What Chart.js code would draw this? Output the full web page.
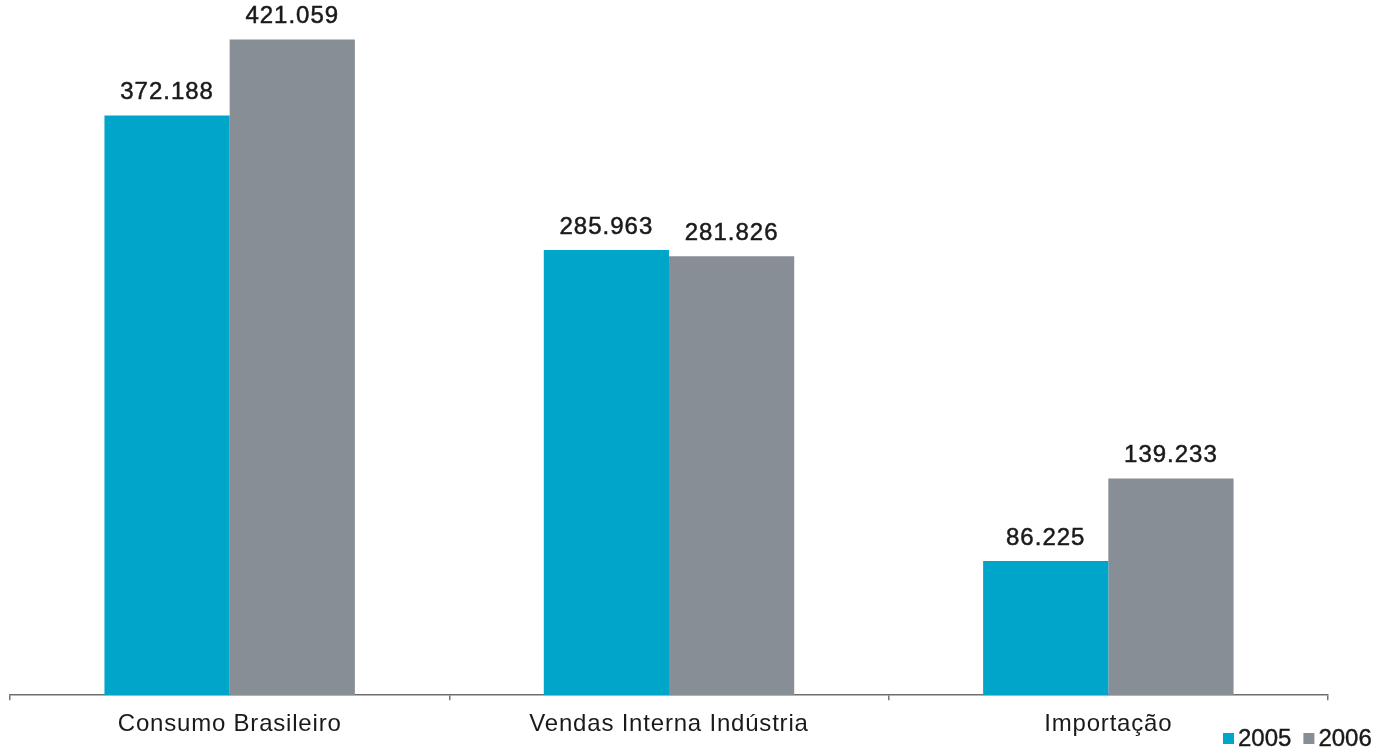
<!DOCTYPE html>
<html lang="pt">
<head>
<meta charset="utf-8">
<title>Consumo Brasileiro 2005 x 2006</title>
<script src="https://cdn.jsdelivr.net/npm/chart.js@4/dist/chart.umd.min.js"></script>
<style>
  html, body { margin: 0; padding: 0; background: #fff; }
  #wrap { position: relative; width: 1390px; height: 753px; }
</style>
</head>
<body>
<div id="wrap"><canvas id="grafico"></canvas></div>
<script>
const categorias = ['Consumo Brasileiro', 'Vendas Interna Indústria', 'Importação'];
const anos = ['2005', '2006'];
const valores2005 = [372.188, 285.963, 86.225];
const valores2006 = [421.059, 281.826, 139.233];

const corAzul = '#00a6ca';
const corCinza = '#888e95';
const corTexto = '#1a1a1a';
const fonte = "'Liberation Sans', Arial, Helvetica, sans-serif";

function formatar(v) {
    return v.toFixed(3);
}

// espaçamento entre letras nos textos do eixo
const espacamento = {
    id: 'espacamento',
    beforeDraw(chart) { chart.ctx.letterSpacing = '0.8px'; },
    afterDraw(chart) { chart.ctx.letterSpacing = '0px'; }
};

// rótulos com o valor acima de cada barra
const rotulosValores = {
    id: 'rotulosValores',
    afterDatasetsDraw(chart) {
        const ctx = chart.ctx;
        ctx.save();
        ctx.font = '24px ' + fonte;
        ctx.fillStyle = corTexto;
        ctx.strokeStyle = corTexto;
        ctx.lineWidth = 0.5;
        ctx.textAlign = 'center';
        ctx.textBaseline = 'bottom';
        ctx.letterSpacing = '1px';
        chart.data.datasets.forEach((ds, i) => {
            chart.getDatasetMeta(i).data.forEach((bar, j) => {
                const txt = formatar(ds.data[j]);
                ctx.fillText(txt, bar.x, bar.y - 11);
                ctx.strokeText(txt, bar.x, bar.y - 11);
            });
        });
        ctx.restore();
    }
};

// legenda compacta no canto inferior direito
const legendaAnos = {
    id: 'legendaAnos',
    afterDraw(chart) {
        const ctx = chart.ctx;
        ctx.save();
        ctx.font = '24px ' + fonte;
        ctx.textBaseline = 'middle';
        ctx.letterSpacing = '0px';
        ctx.strokeStyle = corTexto;
        ctx.lineWidth = 0.4;
        let x = 1223;
        const y = 739;
        chart.data.datasets.forEach((ds) => {
            ctx.fillStyle = ds.backgroundColor;
            ctx.fillRect(x, y - 6, 11, 11);
            x += 15;
            ctx.fillStyle = corTexto;
            ctx.fillText(ds.label, x, y);
            ctx.strokeText(ds.label, x, y);
            x += ctx.measureText(ds.label).width + 12;
        });
        ctx.restore();
    }
};

new Chart(document.getElementById('grafico'), {
    type: 'bar',
    data: {
        labels: categorias,
        datasets: [
            { label: anos[0], data: valores2005, backgroundColor: corAzul },
            { label: anos[1], data: valores2006, backgroundColor: corCinza },
        ],
    },
    options: {
        responsive: true,
        maintainAspectRatio: false,
        animation: false,
        datasets: {
            bar: { categoryPercentage: 0.57, barPercentage: 1.0 },
        },
        layout: {
            padding: { left: 10, right: 62, top: 10, bottom: 4 },
        },
        plugins: {
            legend: { display: false },
            tooltip: { enabled: false },
        },
        scales: {
            x: {
                grid: {
                    offset: true,
                    drawOnChartArea: false,
                    drawTicks: true,
                    tickLength: 5,
                    color: '#777',
                    lineWidth: 1.5,
                },
                border: { display: true, color: '#6e6e6e', width: 1.5 },
                ticks: {
                    color: corTexto,
                    font: { family: fonte, size: 24 },
                    padding: 10,
                    maxRotation: 0,
                },
            },
            y: {
                display: false,
                min: 0,
                max: 440,
            },
        },
    },
    plugins: [espacamento, rotulosValores, legendaAnos],
});
</script>
</body>
</html>
